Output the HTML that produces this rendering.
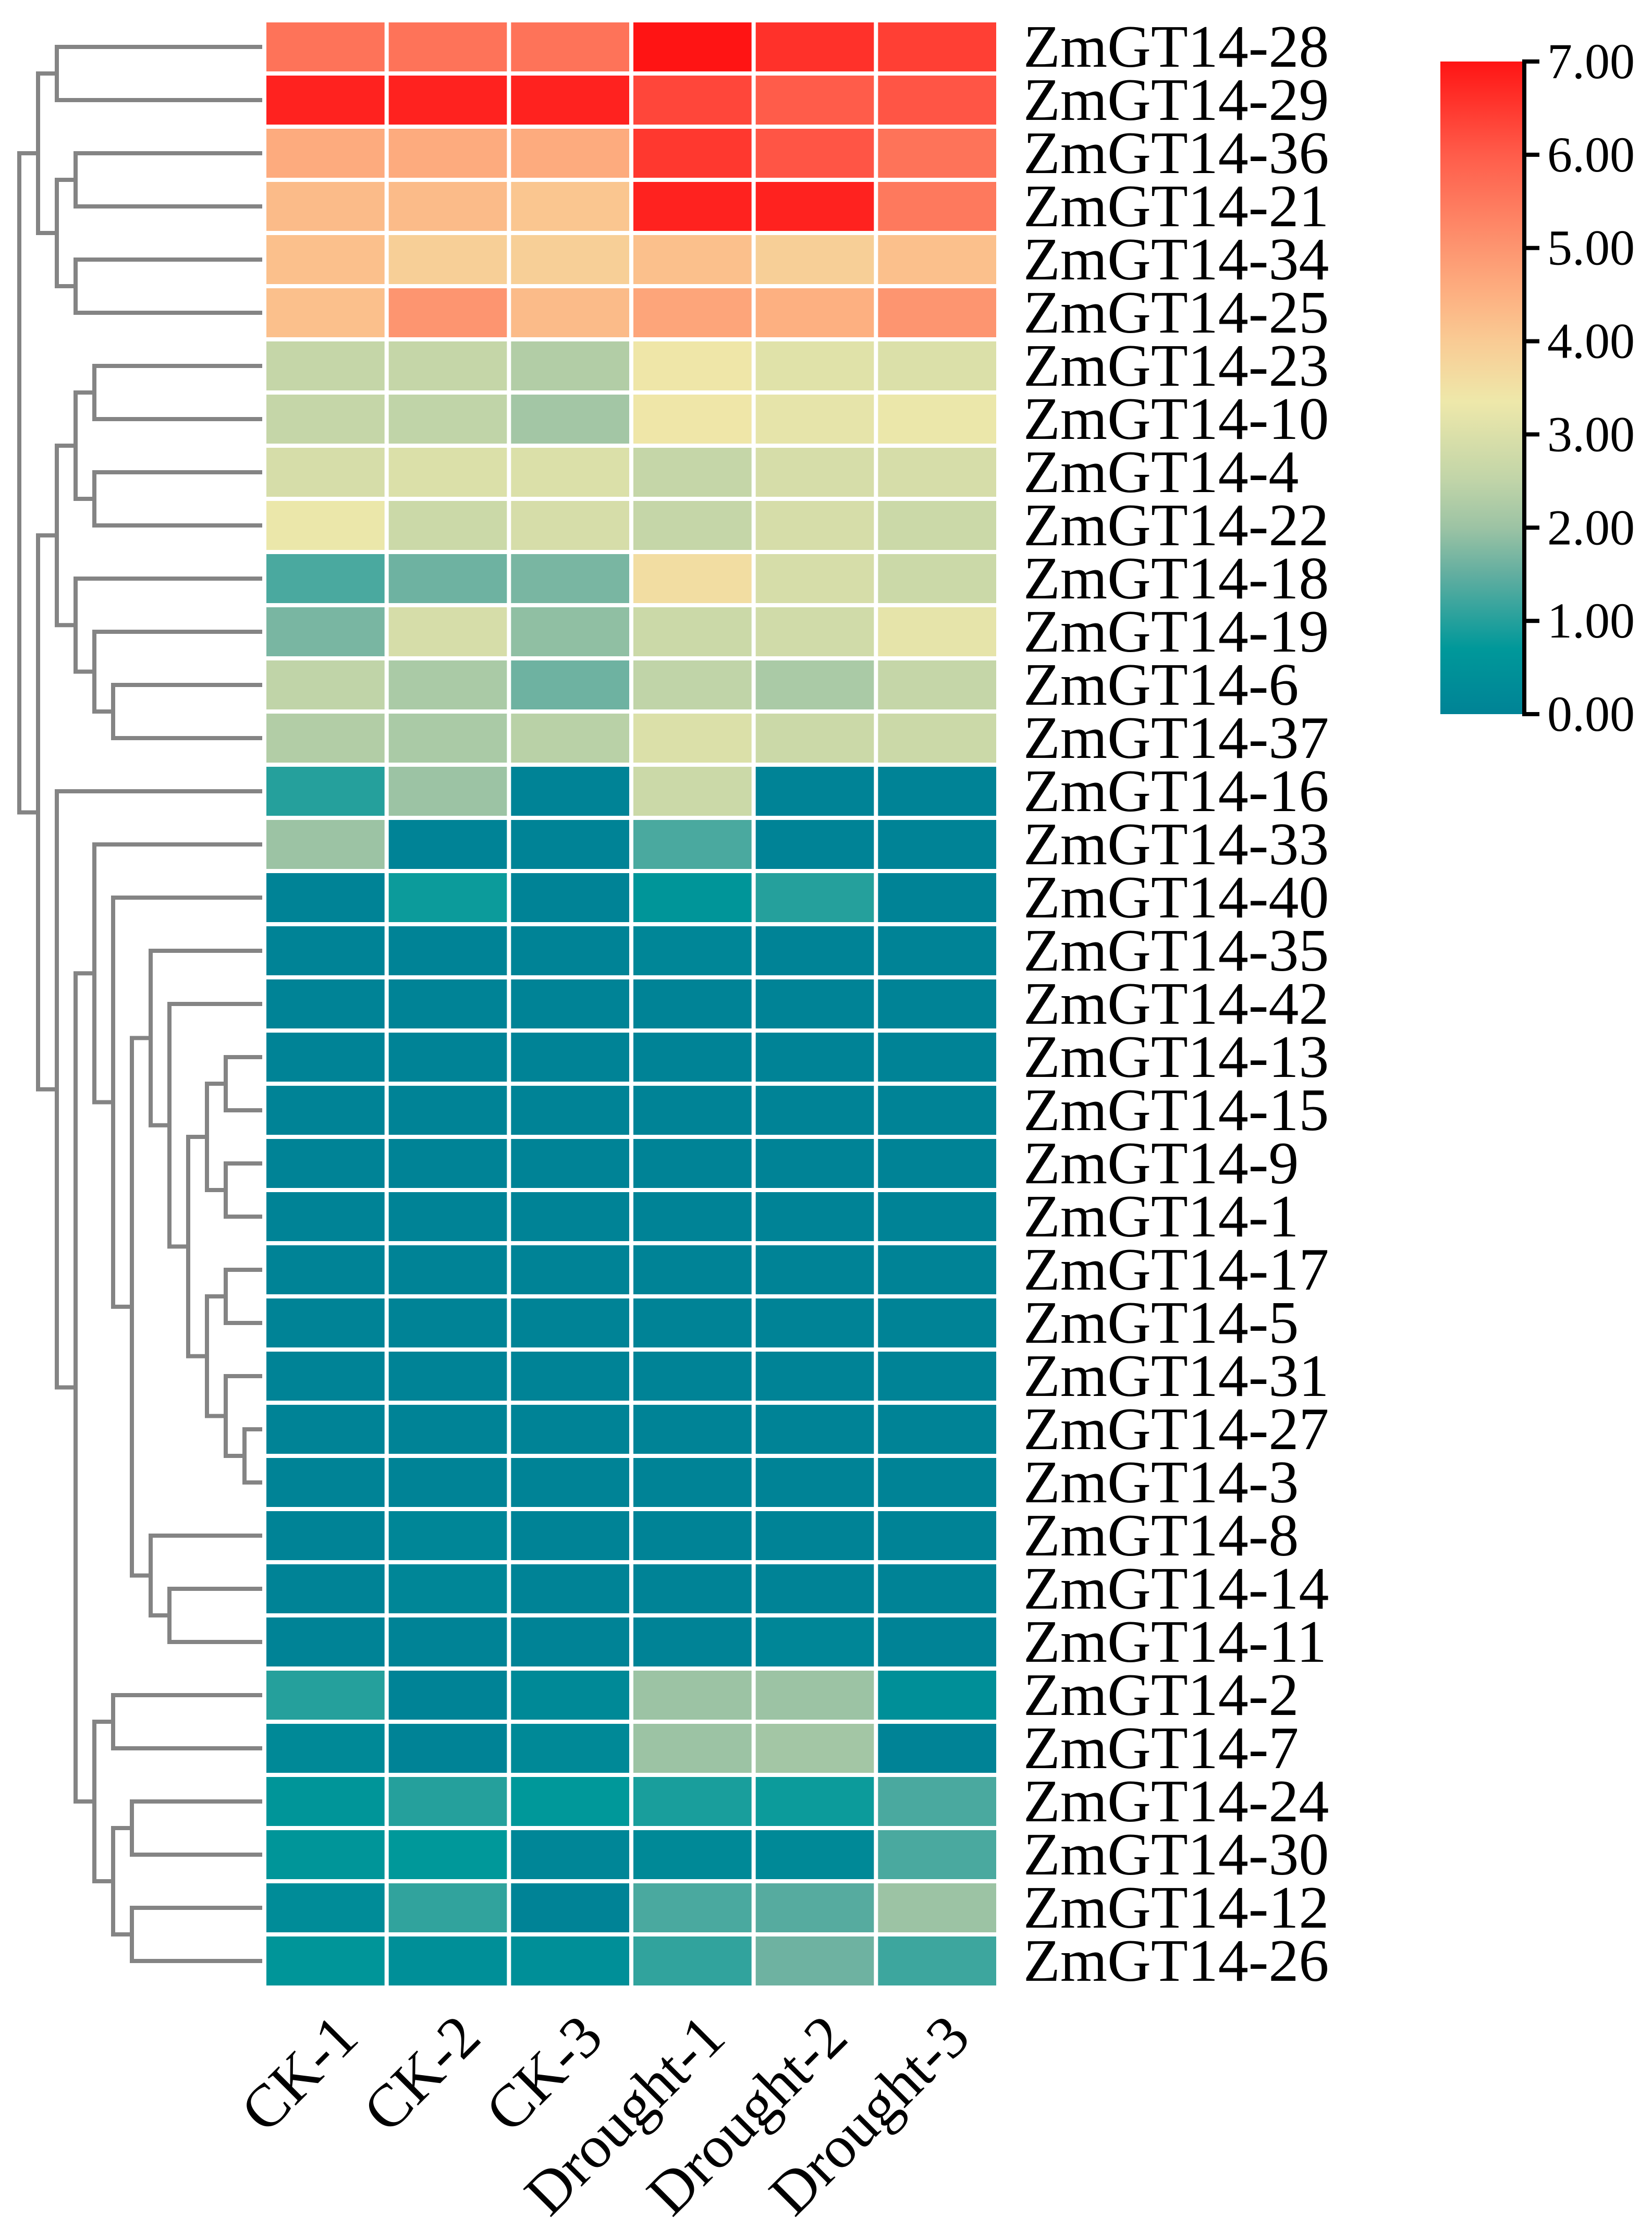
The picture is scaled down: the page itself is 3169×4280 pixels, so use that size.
<!DOCTYPE html>
<html><head><meta charset="utf-8"><style>
html,body{margin:0;padding:0;background:#fff;}
svg{display:block;}
text{font-family:"Liberation Serif",serif;fill:#000;}
</style></head><body>
<svg id="chart" width="3169" height="4280" viewBox="0 0 3169 4280" xmlns="http://www.w3.org/2000/svg">
<defs>
<linearGradient id="cbgrad" x1="0" y1="1" x2="0" y2="0"></linearGradient>
</defs>
<g id="dendro"></g>
<g id="cells"></g>
<g id="rowlabels"></g>
<g id="collabels"></g>
<g id="colorbar"></g>
</svg>
<script>
const genes = ["ZmGT14-28","ZmGT14-29","ZmGT14-36","ZmGT14-21","ZmGT14-34","ZmGT14-25","ZmGT14-23","ZmGT14-10","ZmGT14-4","ZmGT14-22","ZmGT14-18","ZmGT14-19","ZmGT14-6","ZmGT14-37","ZmGT14-16","ZmGT14-33","ZmGT14-40","ZmGT14-35","ZmGT14-42","ZmGT14-13","ZmGT14-15","ZmGT14-9","ZmGT14-1","ZmGT14-17","ZmGT14-5","ZmGT14-31","ZmGT14-27","ZmGT14-3","ZmGT14-8","ZmGT14-14","ZmGT14-11","ZmGT14-2","ZmGT14-7","ZmGT14-24","ZmGT14-30","ZmGT14-12","ZmGT14-26"];
const samples = ["CK-1","CK-2","CK-3","Drought-1","Drought-2","Drought-3"];
const values = [
[5.6,5.6,5.6,7.0,6.6,6.4],
[6.8,6.8,6.8,6.3,6.0,6.1],
[4.6,4.6,4.6,6.5,6.1,5.6],
[4.3,4.3,4.1,6.8,6.8,5.5],
[4.2,3.9,3.9,4.2,3.9,4.2],
[4.2,5.0,4.3,4.7,4.5,5.0],
[2.6,2.6,2.3,3.4,3.1,3.0],
[2.6,2.5,2.1,3.4,3.2,3.3],
[2.9,3.0,3.0,2.6,2.9,2.9],
[3.3,2.7,2.9,2.6,2.9,2.7],
[1.3,1.6,1.7,3.6,2.9,2.7],
[1.7,2.9,1.9,2.7,2.8,3.2],
[2.5,2.2,1.6,2.5,2.2,2.6],
[2.3,2.2,2.4,3.0,2.7,2.7],
[1.0,2.0,0,2.7,0,0],
[2.0,0,0,1.3,0,0],
[0,0.8,0,0.6,1.0,0],
[0,0,0,0.1,0,0],
[0,0,0,0,0,0],
[0,0,0,0,0,0],
[0,0,0,0,0,0],
[0,0,0,0,0,0],
[0,0,0,0,0,0],
[0,0,0,0,0,0],
[0,0,0,0,0,0],
[0,0,0,0,0,0],
[0,0,0,0,0,0],
[0,0,0,0,0,0],
[0,0.1,0,0,0,0],
[0,0.1,0,0,0,0],
[0,0,0,0,0.1,0],
[1.0,0,0.2,2.0,2.0,0.4],
[0.2,0,0.2,2.0,2.1,0],
[0.6,1.0,0.7,0.9,0.8,1.3],
[0.6,0.7,0.1,0.2,0.2,1.3],
[0.3,1.1,0,1.3,1.4,2.0],
[0.6,0.4,0.4,1.1,1.6,1.2]
];
const cbTicks = [0,1,2,3,4,5,6,7];
const cbTickLabels = ["0.00","1.00","2.00","3.00","4.00","5.00","6.00","7.00"];
// dendrogram: [level, left, right]; leaves = row index
const tree = [0,
  [1,[2,0,1],[2,[3,2,3],[3,4,5]]],
  [1,
    [2,[3,[4,6,7],[4,8,9]],[3,10,[4,11,[5,12,13]]]],
    [2,14,[3,
      [4,15,[5,16,[6,
        [7,17,[8,18,[9,[10,[11,19,20],[11,21,22]],[10,[11,23,24],[11,25,[12,26,27]]]]]],
        [7,28,[8,29,30]]
      ]]],
      [4,[5,31,32],[5,[6,33,34],[6,35,36]]]
    ]]
  ]
];

const NS="http://www.w3.org/2000/svg";
const HX0=507, HX1=1915, HY0=39, HY1=3813, GAP=8;
const cw=(HX1-HX0)/samples.length, rh=(HY1-HY0)/genes.length;
const VMIN=0, VMAX=7;
const stops=[[0,[0,131,150]],[0.7,[0,152,154]],[1.5,[98,174,160]],[2,[156,195,164]],[2.5,[192,212,168]],[3.35,[238,232,170]],[4,[249,203,148]],[4.5,[253,176,129]],[5,[253,149,112]],[6,[255,92,74]],[7,[255,20,20]]];
function color(v){
  v=Math.max(VMIN,Math.min(VMAX,v));
  for(let i=0;i<stops.length-1;i++){
    const a=stops[i],b=stops[i+1];
    if(v<=b[0]){const t=(v-a[0])/(b[0]-a[0]);
      const c=a[1].map((x,k)=>Math.round(x+(b[1][k]-x)*t));
      return `rgb(${c[0]},${c[1]},${c[2]})`;}
  }
  return "rgb(255,20,20)";
}
function el(tag,attrs,parent){const e=document.createElementNS(NS,tag);for(const k in attrs)e.setAttribute(k,attrs[k]);parent.appendChild(e);return e;}
const xCol=j=>HX0+j*cw, yRow=i=>HY0+i*rh;

// cells
const gC=document.getElementById('cells');
values.forEach((row,i)=>row.forEach((v,j)=>{
  const r=el('rect',{x:xCol(j)+GAP/2,y:yRow(i)+GAP/2,width:cw-GAP,height:rh-GAP,fill:color(v)},gC);
  
  
}));

// row labels
const gR=document.getElementById('rowlabels');
genes.forEach((g,i)=>{
  const t=el('text',{x:1963,y:yRow(i)+rh/2+38,'font-size':116},gR);
  t.textContent=g;
  
  
});

// column labels
const gL=document.getElementById('collabels');
samples.forEach((s,j)=>{
  const ax=xCol(j)+cw/2+68, ay=3914;
  const t=el('text',{x:ax,y:ay,'font-size':116,'text-anchor':'end',transform:`rotate(-45 ${ax} ${ay})`},gL);
  t.textContent=s;
  
  
});

// dendrogram
const gD=document.getElementById('dendro');
const LX=k=>37+36*k, LEAFX=499;
function nodeY(n){return Array.isArray(n)?(nodeY(n[1])+nodeY(n[2]))/2:yRow(n)+rh/2;}
function nodeX(n){return Array.isArray(n)?LX(n[0]):LEAFX;}
const st={stroke:'#848484','stroke-width':8,'stroke-linecap':'square',fill:'none'};
function draw(n){
  if(!Array.isArray(n))return;
  const x=LX(n[0]);
  const y1=nodeY(n[1]), y2=nodeY(n[2]);
  const p=el('path',Object.assign({d:`M${nodeX(n[1])},${y1}H${x}V${y2}H${nodeX(n[2])}`},st),gD);
  
  
  draw(n[1]);draw(n[2]);
}
draw(tree);

// colorbar
const grad=document.getElementById('cbgrad');
stops.forEach(s=>{el('stop',{offset:(s[0]-VMIN)/(VMAX-VMIN),'stop-color':`rgb(${s[1].join(',')})`},grad);});
const gB=document.getElementById('colorbar');
const CBX0=2763, CBX1=2920, CBY0=118, CBY1=1370;
const yCb=v=>CBY1-(v-VMIN)/(VMAX-VMIN)*(CBY1-CBY0);
const bar=el('rect',{x:CBX0,y:CBY0,width:CBX1-CBX0,height:CBY1-CBY0,fill:'url(#cbgrad)'},gB);


const axl=el('line',{x1:CBX1+4,y1:CBY0-3,x2:CBX1+4,y2:CBY1+3,stroke:'#000','stroke-width':8},gB);


cbTicks.forEach((v,i)=>{
  const y=yCb(v);
  const tk=el('line',{x1:CBX1,y1:y,x2:2953,y2:y,stroke:'#000','stroke-width':8},gB);
  
  
  const t=el('text',{x:2968,y:y+32,'font-size':96},gB);
  t.textContent=cbTickLabels[i];
  
  
});
</script>
</body></html>
